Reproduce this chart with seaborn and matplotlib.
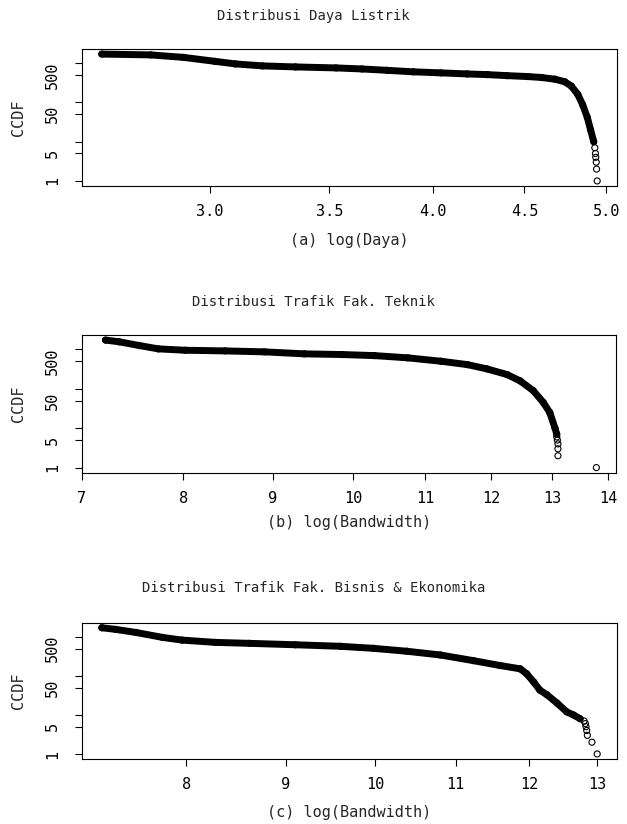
import numpy as np
import pandas as pd
import matplotlib
matplotlib.use("Agg")
import matplotlib.pyplot as plt
import seaborn as sns

# (a) daya listrik -- dense part of the ccdf curve, then the sparse tail
daya_x      = [2.61, 2.78, 2.90, 3.02, 3.10, 3.21, 3.35, 3.53, 3.65, 3.77, 3.90, 4.04,
               4.18, 4.29, 4.40, 4.52, 4.60, 4.68, 4.74, 4.78, 4.82, 4.85, 4.88, 4.90, 4.92]
daya_ccdf   = [1700, 1620, 1400, 1110, 955, 850, 800, 755, 710, 655, 600, 565,
               530, 510, 480, 455, 430, 390, 335, 260, 160, 88, 41, 20, 10]
daya_tail_x    = [4.927, 4.931, 4.933, 4.936, 4.938, 4.942]
daya_tail_ccdf = [7, 5, 4, 3, 2, 1]

# (b) trafik fak. teknik
tek_x      = [7.22, 7.35, 7.55, 7.74, 8.02, 8.45, 8.90, 9.38, 9.86, 10.29, 10.75,
              11.23, 11.63, 11.93, 12.25, 12.46, 12.68, 12.85, 12.96, 13.05, 13.08]
tek_ccdf   = [1720, 1560, 1250, 1030, 950, 915, 865, 770, 740, 695, 610,
              500, 410, 320, 230, 160, 90, 45, 25, 10, 7]
tek_tail_x    = [13.08, 13.09, 13.10, 13.10, 13.10, 13.78]
tek_tail_ccdf = [6, 5, 4, 3, 2, 1]

# (c) trafik fak. bisnis & ekonomika
eko_x      = [7.24, 7.36, 7.54, 7.78, 7.96, 8.28, 8.62, 9.10, 9.60, 9.98, 10.38, 10.80,
              11.23, 11.59, 11.87, 11.96, 12.06, 12.15, 12.25, 12.40, 12.54, 12.64, 12.74]
eko_ccdf   = [1720, 1560, 1300, 970, 830, 725, 685, 630, 575, 510, 430, 345,
              247, 185, 152, 114, 70, 43, 33, 20, 12, 10, 8]
eko_tail_x    = [12.80, 12.82, 12.83, 12.84, 12.85, 12.92, 13.00]
eko_tail_ccdf = [7, 6, 5, 4, 3, 2, 1]

TITLES  = ["Distribusi Daya Listrik",
           "Distribusi Trafik Fak. Teknik",
           "Distribusi Trafik Fak. Bisnis & Ekonomika"]
XLABELS = ["(a) log(Daya)", "(b) log(Bandwidth)", "(c) log(Bandwidth)"]
XTICKS  = [[3.0, 3.5, 4.0, 4.5, 5.0],
           [7, 8, 9, 10, 11, 12, 13, 14],
           [8, 9, 10, 11, 12, 13]]
XTICKLABELS = [["3.0", "3.5", "4.0", "4.5", "5.0"],
               ["7", "8", "9", "10", "11", "12", "13", "14"],
               ["8", "9", "10", "11", "12", "13"]]
YTICKS      = [1, 5, 10, 50, 100, 500, 1000]
YTICKLABELS = ["1", "5", "", "50", "", "500", ""]

panels = [
    (daya_x, daya_ccdf, daya_tail_x, daya_tail_ccdf),
    (tek_x, tek_ccdf, tek_tail_x, tek_tail_ccdf),
    (eko_x, eko_ccdf, eko_tail_x, eko_tail_ccdf),
]

sns.set_style("ticks")
plt.rcParams["font.family"] = ["DejaVu Sans Mono", "DejaVu Sans"]
plt.rcParams["font.size"] = 11

W, H = 627, 824
fig = plt.figure(figsize=(W / 100, H / 100), dpi=100)

# axes boxes in pixels: left, top, right, bottom
boxes = [(82, 49, 617, 186), (82, 335, 616, 472.7), (82, 622.7, 617, 759)]
title_y  = [16, 302, 588]     # pixel centre of each title
xlabel_y = [241, 522, 813]    # pixel centre of each x label


def r_range(vals):
    # R style axis range: 4% padding on a log axis
    lo, hi = np.log10(min(vals)), np.log10(max(vals))
    pad = 0.04 * (hi - lo)
    return 10 ** (lo - pad), 10 ** (hi + pad)


for i, (bx, bc, tx, tc) in enumerate(panels):
    l, t, r, b = boxes[i]
    ax = fig.add_axes([l / W, 1 - b / H, (r - l) / W, (b - t) / H])

    band = pd.DataFrame({"x": bx, "ccdf": bc})
    tail = pd.DataFrame({"x": tx, "ccdf": tc})
    allpts = pd.concat([band, tail], ignore_index=True)

    sns.lineplot(data=band, x="x", y="ccdf", sort=False, estimator=None,
                 color="black", linewidth=5.0, solid_capstyle="round", ax=ax)
    sns.scatterplot(data=allpts, x="x", y="ccdf", marker="o", s=19,
                    facecolor="none", edgecolor="black", linewidth=0.8, ax=ax)

    ax.set_xscale("log")
    ax.set_yscale("log")
    ax.set_xlim(*r_range(allpts["x"]))
    ax.set_ylim(*r_range(allpts["ccdf"]))

    ax.set_xticks(XTICKS[i], XTICKLABELS[i])
    ax.set_yticks(YTICKS, YTICKLABELS)
    ax.minorticks_off()

    ax.tick_params(length=5, width=0.8, color="black", labelcolor="black")
    ax.tick_params(axis="x", pad=8)
    ax.tick_params(axis="y", pad=11, labelrotation=90)
    for lbl in ax.get_yticklabels():
        lbl.set_va("center")
    for sp in ax.spines.values():
        sp.set_linewidth(0.8)
        sp.set_color("black")

    fig.text(0.5, 1 - title_y[i] / H, TITLES[i], ha="center", va="center",
             fontsize=10)
    ax.set_xlabel(XLABELS[i], va="center")
    ax.xaxis.set_label_coords(0.5, -(xlabel_y[i] - b) / (b - t))
    ax.set_ylabel("CCDF", va="center", ha="center")
    ax.yaxis.set_label_coords(-64 / (r - l), 0.5)

fig.savefig("out.png", dpi=100, facecolor="white")
